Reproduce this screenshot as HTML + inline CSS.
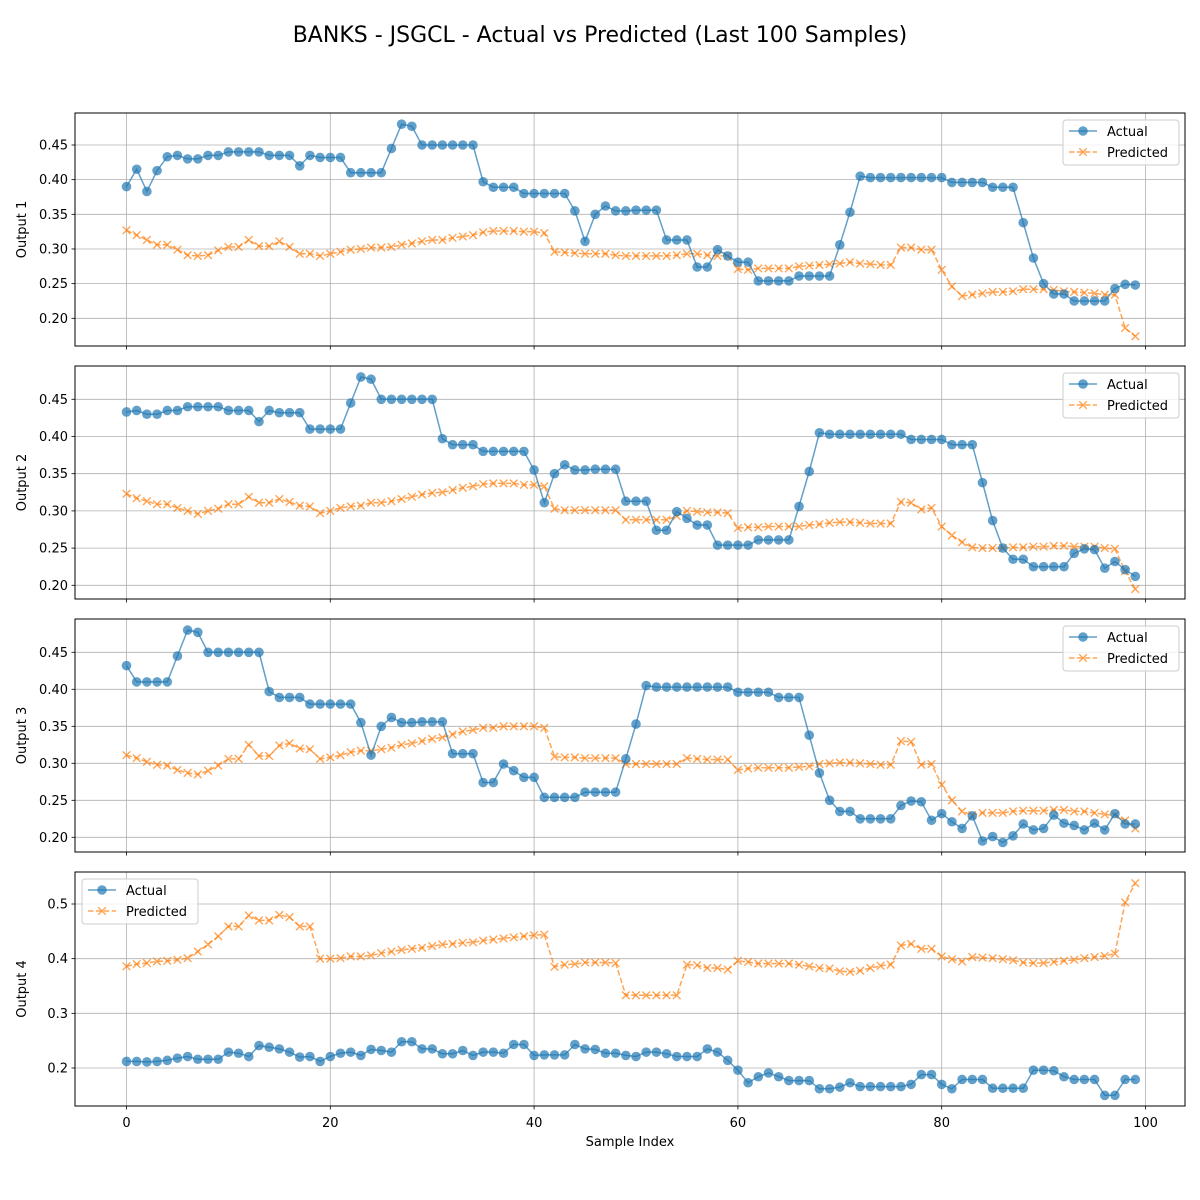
<!DOCTYPE html>
<html><head><meta charset="utf-8">
<style>
html,body{margin:0;padding:0;background:#fff;}
svg{display:block;font-family:"DejaVu Sans","Liberation Sans",sans-serif;}
</style></head>
<body>
<svg id="fig" width="1200" height="1200" viewBox="0 0 1200 1200" xmlns="http://www.w3.org/2000/svg">
<rect width="1200" height="1200" fill="#fff"/>
<text x="600" y="42" text-anchor="middle" font-size="22" fill="#000">BANKS - JSGCL - Actual vs Predicted (Last 100 Samples)</text>
<text x="630" y="1146" text-anchor="middle" font-size="13" fill="#000">Sample Index</text>
</svg>
<script>
// Base actual series (Output 1 actual = base[0..99]; Output 2 = base[4..103]; Output 3 = base[21..120])
const actualBase = [
.39,.415,.383,.413,.433,.435,.43,.43,.435,.435,.44,.44,.44,.44,.435,.435,.435,.42,.435,.432,
.432,.432,.41,.41,.41,.41,.445,.48,.477,.45,.45,.45,.45,.45,.45,.397,.389,.389,.389,.38,
.38,.38,.38,.38,.355,.311,.35,.362,.355,.355,.356,.356,.356,.313,.313,.313,.274,.274,.299,.29,
.281,.281,.254,.254,.254,.254,.261,.261,.261,.261,.306,.353,.405,.403,.403,.403,.403,.403,.403,.403,
.403,.396,.396,.396,.396,.389,.389,.389,.338,.287,.25,.235,.235,.225,.225,.225,.225,.243,.249,.248,
.223,.232,.221,.212,.229,.195,.201,.193,.202,.218,.21,.212,.23,.219,.216,.21,.219,.21,.232,.218,.218];
const actual1 = actualBase.slice(0,100);
const actual2 = actualBase.slice(4,104);
const actual3 = actualBase.slice(21,121);
const actual4 = [
.212,.212,.211,.212,.214,.218,.221,.216,.216,.216,.229,.227,.221,.241,.238,.235,.229,.220,.221,.212,
.221,.227,.229,.223,.234,.232,.229,.248,.248,.235,.235,.226,.226,.232,.223,.229,.229,.227,.243,.243,
.223,.224,.224,.224,.243,.235,.234,.227,.227,.223,.221,.229,.229,.226,.221,.221,.221,.235,.229,.214,
.196,.173,.184,.191,.184,.177,.177,.177,.162,.162,.165,.173,.166,.166,.166,.166,.166,.170,.188,.188,
.170,.162,.179,.179,.179,.163,.163,.163,.163,.196,.196,.195,.184,.179,.179,.179,.150,.150,.179,.179];
const pred1 = [
.327,.320,.313,.306,.306,.299,.291,.290,.291,.298,.303,.303,.313,.304,.304,.311,.303,.293,.293,.290,
.293,.296,.299,.300,.302,.302,.303,.306,.308,.311,.313,.313,.316,.318,.320,.324,.326,.326,.326,.325,
.325,.323,.296,.295,.294,.293,.293,.293,.291,.290,.290,.290,.290,.290,.291,.293,.293,.291,.290,.290,
.271,.270,.272,.272,.272,.272,.275,.276,.277,.278,.279,.281,.279,.278,.277,.277,.302,.302,.299,.299,
.270,.246,.232,.234,.236,.238,.238,.239,.242,.242,.242,.241,.239,.238,.237,.236,.234,.234,.186,.174];
const pred2 = [
.323,.317,.313,.309,.309,.304,.300,.296,.300,.303,.309,.309,.319,.311,.311,.316,.312,.307,.306,.297,
.300,.304,.306,.307,.311,.311,.313,.316,.319,.322,.324,.325,.328,.331,.333,.336,.337,.337,.337,.335,
.335,.333,.303,.301,.301,.301,.301,.301,.301,.288,.288,.288,.288,.288,.293,.300,.299,.298,.298,.297,
.277,.278,.278,.279,.279,.279,.279,.281,.282,.284,.285,.285,.284,.283,.283,.283,.312,.311,.302,.304,
.279,.267,.258,.251,.250,.250,.250,.251,.251,.252,.252,.253,.253,.252,.252,.252,.250,.249,.219,.195];
const pred3 = [
.311,.307,.302,.298,.297,.291,.287,.285,.290,.297,.306,.306,.325,.310,.310,.324,.327,.320,.319,.306,
.308,.311,.315,.317,.317,.319,.321,.325,.327,.330,.333,.335,.339,.343,.345,.348,.348,.350,.350,.350,
.350,.348,.309,.308,.308,.307,.307,.307,.307,.299,.299,.299,.299,.299,.299,.307,.306,.305,.305,.305,
.291,.293,.294,.294,.294,.294,.295,.296,.299,.300,.301,.301,.300,.299,.298,.298,.330,.329,.298,.299,
.271,.250,.235,.230,.233,.233,.233,.235,.236,.236,.236,.237,.237,.235,.235,.233,.231,.230,.223,.212];
const pred4 = [
.386,.390,.392,.395,.396,.398,.401,.413,.426,.441,.459,.459,.479,.470,.470,.480,.476,.459,.459,.400,
.400,.401,.404,.404,.406,.410,.413,.416,.418,.420,.423,.426,.427,.429,.430,.433,.435,.437,.439,.441,
.443,.444,.385,.389,.390,.393,.393,.393,.392,.333,.333,.333,.333,.333,.333,.389,.388,.383,.383,.380,
.396,.394,.391,.391,.391,.391,.389,.386,.383,.382,.377,.376,.378,.383,.387,.389,.424,.427,.418,.418,
.404,.399,.395,.403,.402,.401,.399,.397,.393,.392,.392,.394,.396,.398,.401,.403,.405,.409,.503,.538];
const xTicks = [0,20,40,60,80,100];
const yTicks1 = [0.20,0.25,0.30,0.35,0.40,0.45];
const yTicks4 = [0.2,0.3,0.4,0.5];

const NS="http://www.w3.org/2000/svg";
const svg=document.getElementById('fig');
function mk(tag,attrs,parent){const e=document.createElementNS(NS,tag);for(const k in attrs)e.setAttribute(k,attrs[k]);(parent||svg).appendChild(e);return e;}
const L=75,R=1185;
function xs(i){return 126.5+(i-0)*(1145.5-126.5)/100;}
const XS=3.8;

const panels=[
 {top:113,bot:346,v1:0.45,y1:145,v2:0.20,y2:318.3,act:actual1,pred:pred1,ticks:yTicks1,fmt:2,label:'Output 1',leg:'right'},
 {top:366,bot:599,v1:0.45,y1:399.3,v2:0.20,y2:585.3,act:actual2,pred:pred2,ticks:yTicks1,fmt:2,label:'Output 2',leg:'right'},
 {top:619,bot:852,v1:0.45,y1:652.3,v2:0.20,y2:837.3,act:actual3,pred:pred3,ticks:yTicks1,fmt:2,label:'Output 3',leg:'right'},
 {top:872,bot:1106,v1:0.5,y1:904,v2:0.2,y2:1068,act:actual4,pred:pred4,ticks:yTicks4,fmt:1,label:'Output 4',leg:'left'}
];
panels.forEach((p,pi)=>{
 const g=mk('g',{});
 
 
 const ys=v=>p.y1+(v-p.v1)*(p.y2-p.y1)/(p.v2-p.v1);
 xTicks.forEach(t=>{
  const l=mk('line',{x1:xs(t),x2:xs(t),y1:p.top,y2:p.bot,stroke:'#b0b0b0','stroke-width':0.8},g);
  
  
  const tk=mk('line',{x1:xs(t),x2:xs(t),y1:p.bot,y2:p.bot+3.5,stroke:'#000','stroke-width':0.8},g);
  
  
  if(pi===3){const tx=mk('text',{x:xs(t),y:p.bot+21,'text-anchor':'middle','font-size':13},g);tx.textContent=t;
   
   }
 });
 p.ticks.forEach(t=>{
  const y=ys(t);
  const l=mk('line',{x1:L,x2:R,y1:y,y2:y,stroke:'#b0b0b0','stroke-width':0.8},g);
  
  
  mk('line',{x1:L-3.5,x2:L,y1:y,y2:y,stroke:'#000','stroke-width':0.8},g);
  const tx=mk('text',{x:L-7,y:y+4.5,'text-anchor':'end','font-size':13},g);
  tx.textContent=t.toFixed(p.fmt);
  
  
 });
 const cy=(p.top+p.bot)/2;
 const yl=mk('text',{x:0,y:0,transform:`translate(26,${cy}) rotate(-90)`,'text-anchor':'middle','font-size':13},g);
 yl.textContent=p.label;
 
 
 const pp=p.pred.map((v,i)=>xs(i).toFixed(1)+','+ys(v).toFixed(1)).join(' ');
 const pl=mk('polyline',{points:pp,fill:'none',stroke:'#ff7f0e','stroke-opacity':0.7,'stroke-width':1.5,'stroke-dasharray':'5.5,2.4'},g);
 
 
 p.pred.forEach((v,i)=>{const x=xs(i),y=ys(v),s=XS;
  const m=mk('path',{d:`M${x-s},${y-s}L${x+s},${y+s}M${x-s},${y+s}L${x+s},${y-s}`,stroke:'#ff7f0e','stroke-opacity':0.7,'stroke-width':1.4},g);
  
  });
 const ap=p.act.map((v,i)=>xs(i).toFixed(1)+','+ys(v).toFixed(1)).join(' ');
 const al=mk('polyline',{points:ap,fill:'none',stroke:'#1f77b4','stroke-opacity':0.7,'stroke-width':1.5},g);
 
 
 p.act.forEach((v,i)=>{
  const c=mk('circle',{cx:xs(i),cy:ys(v),r:4.8,fill:'#1f77b4','fill-opacity':0.7},g);
  
  });
 const fr=mk('rect',{x:L,y:p.top,width:R-L,height:p.bot-p.top,fill:'none',stroke:'#000','stroke-width':1},g);
 
 
 const lx=p.leg==='right'?1063:82, ly=p.top+7;
 const lg=mk('g',{},g);
 
 
 mk('rect',{x:lx,y:ly,width:116,height:45,rx:3,fill:'#fff','fill-opacity':0.8,stroke:'#cccccc','stroke-width':1},lg);
 mk('line',{x1:lx+6,x2:lx+34,y1:ly+11,y2:ly+11,stroke:'#1f77b4','stroke-opacity':0.7,'stroke-width':1.5},lg);
 mk('circle',{cx:lx+20,cy:ly+11,r:4.8,fill:'#1f77b4','fill-opacity':0.7},lg);
 const t1=mk('text',{x:lx+44,y:ly+16,'font-size':13},lg);t1.textContent='Actual';
 
 
 mk('line',{x1:lx+6,x2:lx+34,y1:ly+32,y2:ly+32,stroke:'#ff7f0e','stroke-opacity':0.7,'stroke-width':1.5,'stroke-dasharray':'5.5,2.4'},lg);
 const cx=lx+20,cyy=ly+32,s=XS;
 mk('path',{d:`M${cx-s},${cyy-s}L${cx+s},${cyy+s}M${cx-s},${cyy+s}L${cx+s},${cyy-s}`,stroke:'#ff7f0e','stroke-opacity':0.7,'stroke-width':1.4},lg);
 const t2=mk('text',{x:lx+44,y:ly+37,'font-size':13},lg);t2.textContent='Predicted';
 
 
});
</script>
</body></html>
